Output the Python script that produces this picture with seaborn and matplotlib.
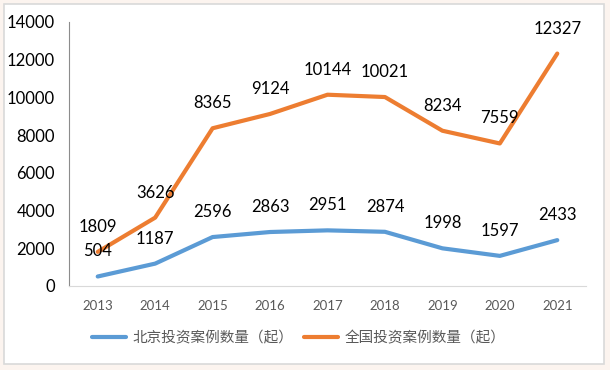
import seaborn as sns
import pandas as pd
import matplotlib.pyplot as plt
from matplotlib.patches import Rectangle

years = ["2013", "2014", "2015", "2016", "2017", "2018", "2019", "2020", "2021"]
beijing = [504, 1187, 2596, 2863, 2951, 2874, 1998, 1597, 2433]
national = [1809, 3626, 8365, 9124, 10144, 10021, 8234, 7559, 12327]
series_names = ["北京投资案例数量（起）", "全国投资案例数量（起）"]
colors = ["#5B9BD5", "#ED7D31"]

df = pd.DataFrame({
    "year": list(range(len(years))) * 2,
    "value": beijing + national,
    "series": [series_names[0]] * len(years) + [series_names[1]] * len(years),
})

sns.set_style("white")
plt.rcParams["font.family"] = ["Noto Sans CJK SC", "DejaVu Sans"]
num_font = ["Lato", "DejaVu Sans"]

fig = plt.figure(figsize=(6.1, 3.7), dpi=100, facecolor="#fcf4ef")
fig.patches.append(Rectangle((4 / 610, 1 - 364 / 370), 600 / 610, 360 / 370,
                             transform=fig.transFigure, facecolor="white",
                             edgecolor="#d9d9d9", linewidth=1.2, zorder=-5))
ax = fig.add_axes([69 / 610, 1 - 286 / 370, 517 / 610, 264 / 370])
ax.set_facecolor("none")
ax.set_zorder(2)

sns.lineplot(data=df, x="year", y="value", hue="series", palette=colors,
             linewidth=3, ax=ax, legend=False)

for vals in (beijing, national):
    for i, v in enumerate(vals):
        ax.annotate(str(v), (i, v), xytext=(0, 18), textcoords="offset points",
                    ha="center", va="center", fontsize=12, color="black",
                    family=num_font)

ax.set_xlim(-0.5, len(years) - 0.5)
ax.set_ylim(0, 14000)
ax.set_yticks(range(0, 14001, 2000))
ax.set_yticklabels([str(t) for t in range(0, 14001, 2000)], fontsize=12,
                   color="black", family=num_font)
ax.set_xticks(range(len(years)))
ax.set_xticklabels(years, fontsize=9.5, color="#595959", family=num_font)
ax.tick_params(axis="both", length=0, pad=10)
ax.set_xlabel("")
ax.set_ylabel("")

for s in ["top", "right"]:
    ax.spines[s].set_visible(False)
ax.spines["left"].set_color("#8c8c8c")
ax.spines["bottom"].set_color("#d9d9d9")

handles = [plt.Line2D([], [], color=c, linewidth=3) for c in colors]
fig.legend(handles, series_names, loc="center", bbox_to_anchor=(0.49, 1 - 338 / 370),
           ncol=2, frameon=False, fontsize=10.5, labelcolor="#595959",
           handlelength=2.3, columnspacing=0.7, handletextpad=0.5)

fig.savefig("out.png", dpi=100, facecolor=fig.get_facecolor())
